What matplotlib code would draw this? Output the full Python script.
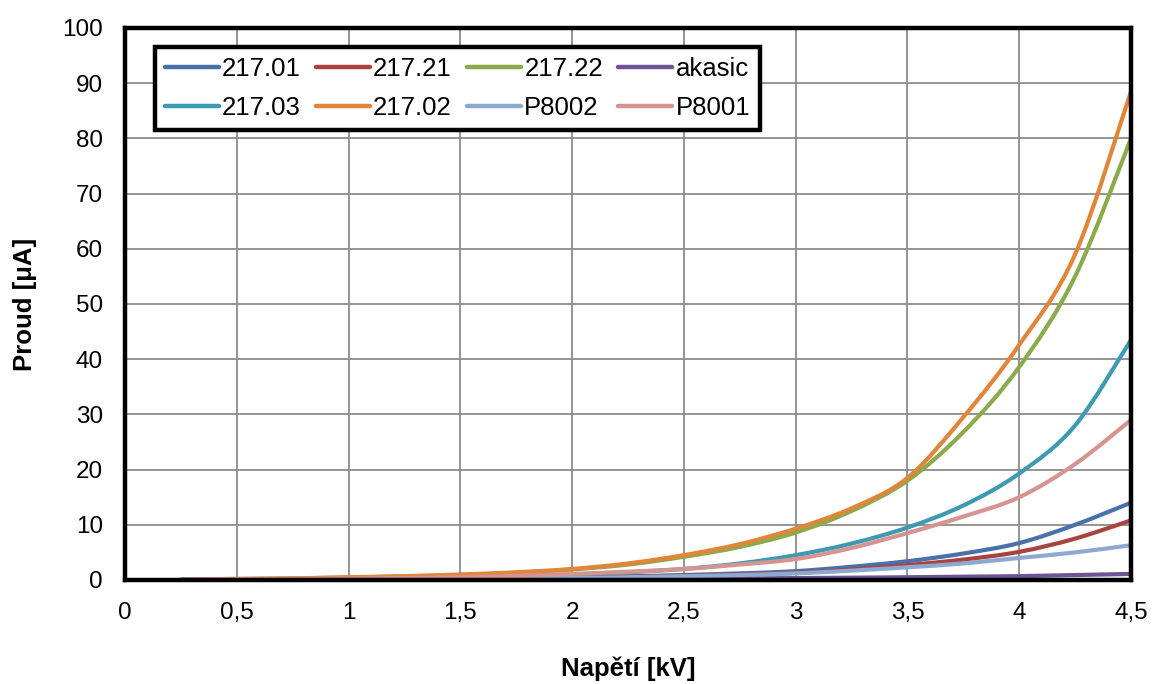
import matplotlib.pyplot as plt
from matplotlib.path import Path
from matplotlib.patches import PathPatch
from matplotlib.lines import Line2D

plt.rcParams['font.family'] = ['Liberation Sans', 'DejaVu Sans']

# napeti [kV]
u = [0.25, 0.5, 0.75, 1.0, 1.25, 1.5, 1.75, 2.0, 2.25, 2.5, 2.75, 3.0,
     3.25, 3.5, 3.75, 4.0, 4.25, 4.5]

# proud [uA]
i_21701 = [0.05, 0.1, 0.15, 0.2, 0.25, 0.3, 0.4, 0.5, 0.65, 0.9, 1.2, 1.6,
           2.4, 3.4, 4.8, 6.7, 10.0, 14.0]
i_21721 = [0.05, 0.1, 0.15, 0.2, 0.25, 0.3, 0.4, 0.5, 0.6, 0.8, 1.0, 1.3,
           1.9, 2.7, 3.7, 5.1, 7.5, 10.8]
i_21722 = [0.1, 0.2, 0.3, 0.45, 0.65, 0.9, 1.3, 1.9, 2.8, 4.2, 6.0, 8.6,
           12.5, 18.0, 26.8, 38.6, 55.0, 80.0]
i_akasic = [0.02, 0.04, 0.06, 0.08, 0.1, 0.12, 0.15, 0.18, 0.22, 0.26, 0.3, 0.35,
            0.42, 0.5, 0.6, 0.7, 0.9, 1.1]
i_21703 = [0.05, 0.1, 0.15, 0.25, 0.35, 0.5, 0.7, 1.0, 1.4, 2.0, 3.0, 4.5,
           6.6, 9.5, 13.5, 19.3, 28.0, 43.5]
i_21702 = [0.1, 0.2, 0.3, 0.5, 0.7, 1.0, 1.4, 2.0, 3.0, 4.5, 6.5, 9.3,
           13.0, 18.5, 29.5, 42.6, 59.0, 88.5]
i_p8002 = [0.03, 0.06, 0.1, 0.13, 0.17, 0.22, 0.28, 0.35, 0.5, 0.7, 0.9, 1.2,
           1.7, 2.3, 3.0, 4.0, 5.0, 6.3]
i_p8001 = [0.05, 0.1, 0.15, 0.25, 0.35, 0.5, 0.75, 1.1, 1.5, 2.0, 2.8, 3.8,
           5.8, 8.5, 11.5, 15.0, 21.0, 29.0]

series = [
    ("217.01", i_21701, "#4A72AA"),
    ("217.21", i_21721, "#A9433F"),
    ("217.22", i_21722, "#8BAA4B"),
    ("akasic", i_akasic, "#6E5494"),
    ("217.03", i_21703, "#3E9AB3"),
    ("217.02", i_21702, "#E0853A"),
    ("P8002", i_p8002, "#8EA9D1"),
    ("P8001", i_p8001, "#D59492"),
]


def smooth_path(x, y):
    # excel-like smoothed line: bezier through the points (catmull-rom handles)
    verts = [(x[0], y[0])]
    codes = [Path.MOVETO]
    n = len(x)
    for k in range(n - 1):
        x0, y0 = (x[k - 1], y[k - 1]) if k > 0 else (x[k], y[k])
        x3, y3 = (x[k + 2], y[k + 2]) if k + 2 < n else (x[k + 1], y[k + 1])
        c1 = (x[k] + (x[k + 1] - x0) / 6, y[k] + (y[k + 1] - y0) / 6)
        c2 = (x[k + 1] - (x3 - x[k]) / 6, y[k + 1] - (y3 - y[k]) / 6)
        verts += [c1, c2, (x[k + 1], y[k + 1])]
        codes += [Path.CURVE4] * 3
    return Path(verts, codes)


fig = plt.figure(figsize=(11.52, 6.84), dpi=100)
ax = fig.add_axes([125 / 1152, 1 - 580 / 684, 1006 / 1152, 552 / 684])

handles = []
for name, vals, col in series:
    ax.add_patch(PathPatch(smooth_path(u, vals), fill=False, edgecolor=col,
                           lw=3, capstyle='butt', joinstyle='round'))
    handles.append(Line2D([], [], color=col, lw=3.2, solid_capstyle='round', label=name))

ax.set_xlim(0, 4.5)
ax.set_ylim(0, 100)
ax.set_xticks([0, 0.5, 1, 1.5, 2, 2.5, 3, 3.5, 4, 4.5])
ax.set_xticklabels(["0", "0,5", "1", "1,5", "2", "2,5", "3", "3,5", "4", "4,5"])
ax.set_yticks(range(0, 101, 10))
ax.tick_params(labelsize=17.5, length=0, pad=16)
ax.grid(True, color="#8c8c8c", lw=1.3)
ax.set_axisbelow(True)
for sp in ax.spines.values():
    sp.set_linewidth(3.2)
    sp.set_color("black")

ax.set_xlabel("Napětí [kV]", fontsize=18.5, fontweight="bold", labelpad=23)
ax.set_ylabel("Proud [μA]", fontsize=18.5, fontweight="bold", labelpad=18)

# legend is filled column by column, so reorder to read row by row
order = [0, 4, 1, 5, 2, 6, 3, 7]
leg = ax.legend([handles[k] for k in order], [handles[k].get_label() for k in order],
                loc="upper left", bbox_to_anchor=(0.0298, 0.9656), borderaxespad=0,
                ncol=4, fontsize=18.5, frameon=True, fancybox=False, handlelength=2.1,
                handletextpad=0.12, columnspacing=0.6, borderpad=0.38,
                labelspacing=0.6)
leg.get_frame().set_edgecolor("black")
leg.get_frame().set_linewidth(3.2)
leg.get_frame().set_alpha(1)

plt.savefig("out.png", dpi=100)
